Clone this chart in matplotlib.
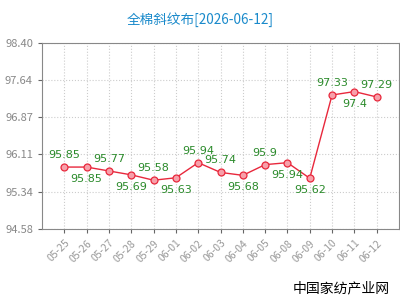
import matplotlib.pyplot as plt

plt.rcParams['font.family'] = ['Noto Sans CJK SC', 'DejaVu Sans']

dates = ['05-25', '05-26', '05-27', '05-28', '05-29', '06-01', '06-02', '06-03',
         '06-04', '06-05', '06-08', '06-09', '06-10', '06-11', '06-12']
prices = [95.85, 95.85, 95.77, 95.69, 95.58, 95.63, 95.94, 95.74,
          95.68, 95.9, 95.94, 95.62, 97.33, 97.4, 97.29]
label_above = [True, False, True, False, True, False, True, True,
               False, True, False, False, True, False, True]
yticks = [94.58, 95.34, 96.11, 96.87, 97.64, 98.40]

fig = plt.figure(figsize=(4, 3), dpi=100)
ax = fig.add_axes([0.105, 0.237, 0.8925, 0.62])

x = list(range(len(dates)))
ax.plot(x, prices, '-', color='#e8283c', lw=1.0, zorder=3)
ax.plot(x, prices, 'o', ms=5, mfc='#f7a0aa', mec='#e8283c', mew=0.9, zorder=4)

for i, v in enumerate(prices):
    dy = 5 if label_above[i] else -5
    va = 'bottom' if label_above[i] else 'top'
    ax.annotate(f'{v:g}', (i, v), xytext=(0, dy), textcoords='offset points',
                ha='center', va=va, color='#2a8a2a', fontsize=8,
                family=['DejaVu Sans'])

ax.set_xlim(-1, 15)
ax.set_ylim(94.58, 98.40)
ax.set_xticks(x)
ax.set_xticklabels(dates, rotation=45, ha='right', rotation_mode='anchor',
                   color='#999999', fontsize=7.5)
ax.set_yticks(yticks)
ax.set_yticklabels([f'{t:.2f}' for t in yticks], color='#888888', fontsize=8)
ax.tick_params(axis='both', length=3, color='#666666')
ax.grid(True, linestyle=':', color='#cccccc', lw=0.8)
for s in ax.spines.values():
    s.set_color('#888888')
    s.set_linewidth(0.8)

fig.text(0.5, 0.935, '全棉斜纹布[2026-06-12]', ha='center', va='center',
         color='#1a8acb', fontsize=9.8)
fig.text(0.975, 0.04, '中国家纺产业网', ha='right', va='center',
         color='black', fontsize=10)

plt.savefig('out.png')
